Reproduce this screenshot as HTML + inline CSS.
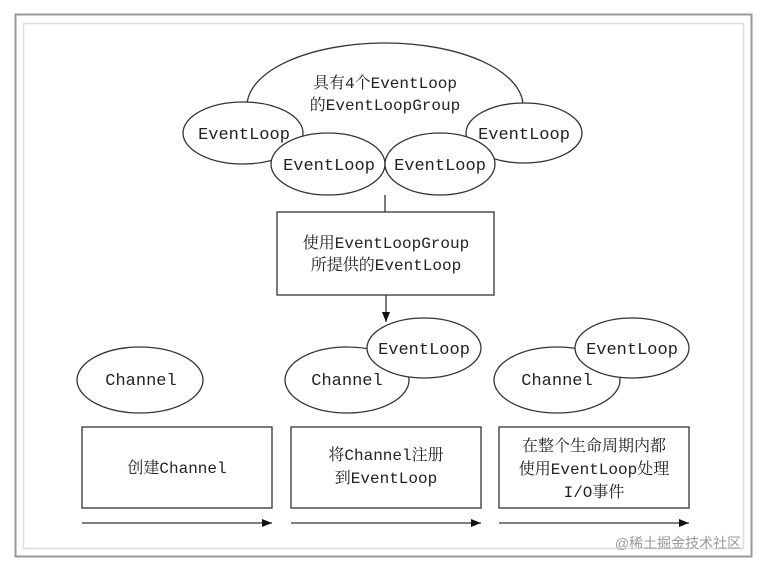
<!DOCTYPE html>
<html><head><meta charset="utf-8"><style>
html,body{margin:0;padding:0;background:#fff;}
svg{display:block}
.m{font-family:"Liberation Mono","Noto Serif CJK SC",monospace;font-size:17px;fill:#222;text-anchor:middle}
.c{font-family:"Liberation Mono","Noto Serif CJK SC",monospace;font-size:16px;fill:#222;text-anchor:middle}
</style></head><body>
<svg width="774" height="568" viewBox="0 0 774 568" xmlns="http://www.w3.org/2000/svg">
<defs><marker id="a" markerWidth="10" markerHeight="8" refX="10" refY="4" orient="auto" markerUnits="userSpaceOnUse"><path d="M0,0 L10,4 L0,8 Z" fill="#111"/></marker></defs>
<rect x="15.5" y="14.5" width="736" height="542" fill="none" stroke="#999" stroke-width="2"/>
<rect x="23.5" y="23.5" width="720" height="525" fill="none" stroke="#ddd" stroke-width="1.5"/>
<g stroke="#333" stroke-width="1.3" fill="#fff">
<ellipse cx="385" cy="106" rx="138" ry="63"/>
<ellipse cx="243" cy="133" rx="60" ry="31"/>
<ellipse cx="524" cy="133" rx="58" ry="30"/>
<ellipse cx="328" cy="164" rx="57" ry="31"/>
<ellipse cx="440" cy="164" rx="55" ry="31"/>
<line x1="385" y1="195" x2="385" y2="212"/>
<rect x="277" y="212" width="217" height="83"/>
<line x1="386" y1="295" x2="386" y2="322" marker-end="url(#a)"/>
<ellipse cx="140" cy="380" rx="63" ry="33"/>
<ellipse cx="347" cy="380" rx="62" ry="33"/>
<ellipse cx="424" cy="348" rx="57" ry="30"/>
<ellipse cx="557" cy="380" rx="63" ry="33"/>
<ellipse cx="632" cy="348" rx="57" ry="30"/>
<rect x="82" y="427" width="190" height="81"/>
<rect x="291" y="427" width="190" height="81"/>
<rect x="499" y="427" width="190" height="81"/>
<line x1="82" y1="523" x2="272" y2="523" marker-end="url(#a)"/>
<line x1="291" y1="523" x2="481" y2="523" marker-end="url(#a)"/>
<line x1="499" y1="523" x2="689" y2="523" marker-end="url(#a)"/>
</g>
<text class="c" x="385" y="88">具有4个EventLoop</text>
<text class="c" x="385" y="110">的EventLoopGroup</text>
<text class="m" x="244" y="139">EventLoop</text>
<text class="m" x="524" y="139">EventLoop</text>
<text class="m" x="329" y="170">EventLoop</text>
<text class="m" x="440" y="170">EventLoop</text>
<text class="c" x="386" y="248">使用EventLoopGroup</text>
<text class="c" x="386" y="270">所提供的EventLoop</text>
<text class="m" x="141" y="385">Channel</text>
<text class="m" x="347" y="385">Channel</text>
<text class="m" x="424" y="354">EventLoop</text>
<text class="m" x="557" y="385">Channel</text>
<text class="m" x="632" y="354">EventLoop</text>
<text class="c" x="177" y="473">创建Channel</text>
<text class="c" x="386" y="460">将Channel注册</text>
<text class="c" x="386" y="483">到EventLoop</text>
<text class="c" x="594" y="451">在整个生命周期内都</text>
<text class="c" x="594" y="474">使用EventLoop处理</text>
<text class="c" x="594" y="497">I/O事件</text>
<text x="678" y="548" style="font-family:'Liberation Sans','Noto Sans CJK SC',sans-serif;font-size:14px;fill:#999;text-anchor:middle">@稀土掘金技术社区</text>
</svg>
</body></html>
